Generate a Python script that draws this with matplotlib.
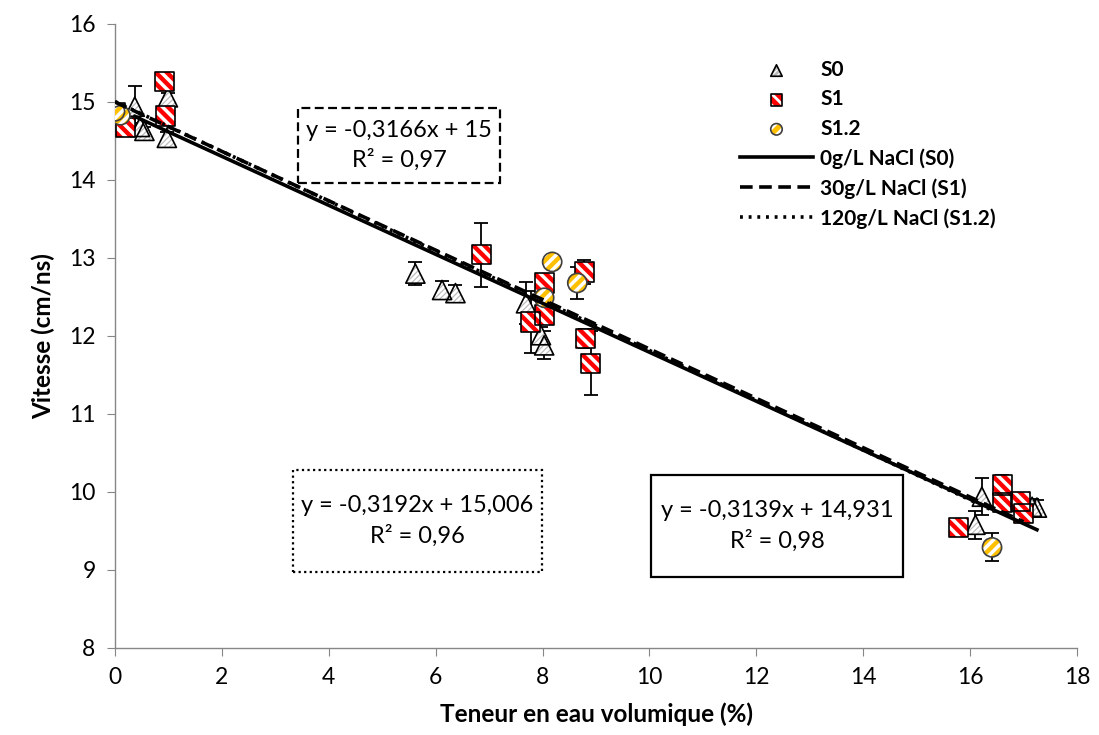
import matplotlib
matplotlib.use('Agg')
import matplotlib.pyplot as plt
from matplotlib.legend_handler import HandlerTuple
from matplotlib.patches import Rectangle
import numpy as np

# ---------------- data ----------------
s0_x = [0.37, 0.47, 0.55, 0.99, 0.97, 5.62, 6.12, 6.37, 7.69, 7.97, 8.03, 16.10, 16.22, 17.16, 17.25]
s0_y = [14.94, 14.68, 14.63, 15.06, 14.54, 12.80, 12.59, 12.55, 12.42, 12.01, 11.88, 9.58, 9.94, 9.81, 9.80]
s0_err = [0.27, 0.05, 0.05, 0.05, 0.08, 0.15, 0.12, 0.10, 0.27, 0.10, 0.18, 0.18, 0.24, 0.10, 0.10]

s1_x = [0.00, 0.19, 0.92, 0.95, 6.85, 8.03, 8.03, 7.78, 8.78, 8.80, 8.90, 15.79, 16.60, 16.60, 16.94, 17.00]
s1_y = [14.87, 14.67, 15.26, 14.82, 13.04, 12.68, 12.27, 12.18, 12.82, 11.97, 11.65, 9.54, 10.09, 9.87, 9.88, 9.72]
s1_err = [0.05, 0.05, 0.05, 0.10, 0.41, 0.05, 0.05, 0.40, 0.15, 0.12, 0.41, 0.05, 0.13, 0.05, 0.10, 0.05]

s12_x = [0.00, 0.10, 8.18, 8.03, 8.65, 16.41]
s12_y = [14.88, 14.83, 12.95, 12.49, 12.68, 9.29]
s12_err = [0.05, 0.05, 0.05, 0.05, 0.20, 0.18]

series_labels = ['S0', 'S1', 'S1.2']
fit_labels = ['0g/L NaCl (S0)', '30g/L NaCl (S1)', '120g/L NaCl (S1.2)']
fit_slopes = [-0.3139, -0.3166, -0.3192]
fit_intercepts = [14.931, 15.0, 15.006]
fit_texts = ['y = -0,3139x + 14,931\nR² = 0,98',
             'y = -0,3166x + 15\nR² = 0,97',
             'y = -0,3192x + 15,006\nR² = 0,96']

x_ticks = [0, 2, 4, 6, 8, 10, 12, 14, 16, 18]
y_ticks = [8, 9, 10, 11, 12, 13, 14, 15, 16]

# ---------------- style ----------------
plt.rcParams['font.family'] = ['Lato', 'DejaVu Sans']
plt.rcParams['hatch.linewidth'] = 2.0

W, H = 1099, 735
AX_L, AX_R, AX_T, AX_B = 115, 1077, 24, 648
fig = plt.figure(figsize=(W / 100, H / 100), dpi=100)
ax = fig.add_axes([AX_L / W, 1 - AX_B / H, (AX_R - AX_L) / W, (AX_B - AX_T) / H])
ax.set_xlim(0, 18)
ax.set_ylim(8, 16)

grey = '#868686'
for s in ['top', 'right']:
    ax.spines[s].set_visible(False)
for s in ['left', 'bottom']:
    ax.spines[s].set_color(grey)
    ax.spines[s].set_linewidth(1.0)
ax.set_xticks(x_ticks)
ax.set_yticks(y_ticks)
ax.tick_params(axis='both', direction='out', length=6, color=grey, labelsize=16.5, pad=8)
ax.set_xlabel('Teneur en eau volumique (%)', fontsize=17.5, fontweight='bold', labelpad=10)
ax.set_ylabel('Vitesse (cm/ns)', fontsize=17.5, fontweight='bold', labelpad=10)

ms = 190

def hatched(x, y, marker, face, hatch, hcolor, hlw, edge, z):
    fill = ax.scatter(x, y, s=ms, marker=marker, facecolor=face, edgecolor=hcolor,
                      hatch=hatch, linewidths=0, zorder=z)
    if hasattr(fill, 'set_hatch_linewidth'):
        fill.set_hatch_linewidth(hlw)
    outline = ax.scatter(x, y, s=ms, marker=marker, facecolor='none', edgecolor=edge,
                         linewidths=1.2, zorder=z + 0.01)
    return fill, outline

# error bars (behind markers)
for xs, ys, es in [(s0_x, s0_y, s0_err), (s1_x, s1_y, s1_err), (s12_x, s12_y, s12_err)]:
    ax.errorbar(xs, ys, yerr=es, fmt='none', ecolor='black', elinewidth=1.3,
                capsize=5, capthick=1.3, zorder=2)

h0 = hatched(s0_x, s0_y, '^', 'white', '//////', '#BDBDBD', 0.9, 'black', 3)
h1 = hatched(s1_x, s1_y, 's', '#FF0000', '\\\\\\', 'white', 2.5, 'black', 3.1)
h2 = hatched(s12_x, s12_y, 'o', '#FFC000', '///', 'white', 2.5, '#404040', 3.2)

# trend lines
styles = [dict(linestyle='-'),
          dict(linestyle=(0, (3.5, 1.8))),
          dict(linestyle=(0, (0.8, 1.6)))]
lines = []
for xs, a, b, st, lab in zip([s0_x, s1_x, s12_x], fit_slopes, fit_intercepts, styles, fit_labels):
    xx = np.array([min(xs), max(xs)])
    ln, = ax.plot(xx, a * xx + b, color='black', linewidth=2.6, zorder=5, label=lab, **st)
    lines.append(ln)

# equation boxes (pixel layout: left, right, top, bottom)
box_px = [(651, 903, 475, 577), (298, 500, 108, 183), (293, 542, 470, 572)]
box_ls = ['-', (0, (4, 2)), (0, (1, 1.5))]

def to_ax(px, py):
    return (px - AX_L) / (AX_R - AX_L), (AX_B - py) / (AX_B - AX_T)

for txt, (l, r, t, b), ls in zip(fit_texts, box_px, box_ls):
    x0, y0 = to_ax(l, b)
    x1, y1 = to_ax(r, t)
    ax.add_patch(Rectangle((x0, y0), x1 - x0, y1 - y0, transform=ax.transAxes,
                           facecolor='white', edgecolor='black', linestyle=ls,
                           linewidth=1.6, zorder=6, clip_on=False))
    ax.text((x0 + x1) / 2, (y0 + y1) / 2, txt, transform=ax.transAxes, ha='center',
            va='center', fontsize=17, linespacing=1.45, zorder=7)

handles = [h0, h1, h2] + lines
labels = series_labels + fit_labels
leg = fig.legend(handles, labels, loc='upper left', bbox_to_anchor=(740 / W, 1 - 60 / H),
                 frameon=False, handler_map={tuple: HandlerTuple(ndivide=1)},
                 prop=dict(size=15, weight='bold'), handlelength=3.5, handletextpad=0.35,
                 labelspacing=0.45, markerscale=0.6, scatterpoints=1, borderpad=0,
                 borderaxespad=0)

fig.savefig('out.png', dpi=100)
